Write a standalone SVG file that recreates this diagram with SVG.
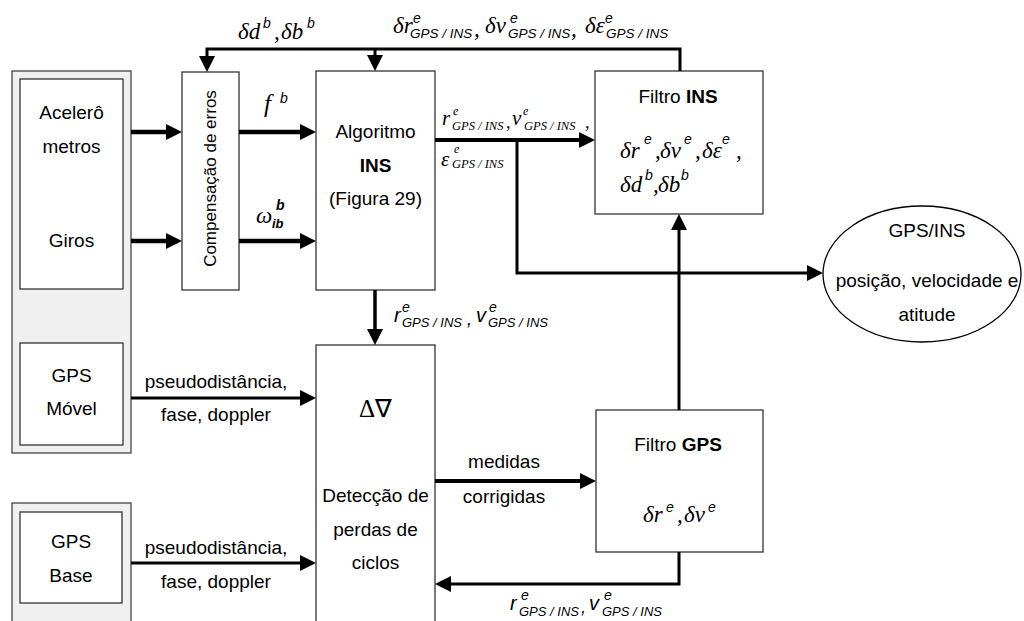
<svg xmlns="http://www.w3.org/2000/svg" width="1024" height="621" viewBox="0 0 1024 621">
  <defs>
    <marker id="ah" markerWidth="16" markerHeight="16" refX="2" refY="8" orient="auto" markerUnits="userSpaceOnUse">
      <path d="M0,0 L16,8 L0,16 z" fill="#000"/>
    </marker>
    <style>
      .panel { fill: #f0f0f0; stroke: #444; stroke-width: 1.3; }
      .box { fill: #fff; stroke: #333; stroke-width: 1.3; }
      .t { font-family: "Liberation Sans", Arial, sans-serif; font-size: 19px; fill: #000; text-anchor: middle; }
      .b { font-weight: bold; }
      .gk { font-family: "Liberation Serif", "Times New Roman", serif; font-style: italic; font-size: 23px; fill: #000; }
      .si { font-family: "Liberation Sans", Arial, sans-serif; font-style: italic; fill: #000; }
      .sup { font-size: 14px; }
      .sub { font-size: 13.5px; }
      .ser { font-family: "Liberation Serif", "Times New Roman", serif; font-style: italic; fill: #000; }
      .c { fill: none; stroke: #000; marker-end: url(#ah); }
    </style>
  </defs>

  <rect width="1024" height="621" fill="#fff"/>

  <!-- sensor panel: accelerometers, gyros, rover GPS -->
  <g id="sensores">
    <rect class="panel" x="12" y="71" width="119" height="382"/>
    <rect class="box" x="20" y="79" width="103" height="210"/>
    <text class="t" x="71.5" y="119">Acelerô</text>
    <text class="t" x="71.5" y="153">metros</text>
    <text class="t" x="71.5" y="247">Giros</text>
  </g>
  <g id="gps-movel">
    <rect class="box" x="20" y="343" width="103" height="102"/>
    <text class="t" x="71.5" y="382">GPS</text>
    <text class="t" x="71.5" y="415">Móvel</text>
  </g>

  <!-- base station panel -->
  <g id="gps-base">
    <rect class="panel" x="12" y="503" width="119" height="130"/>
    <rect class="box" x="20" y="512" width="102" height="91"/>
    <text class="t" x="71" y="548">GPS</text>
    <text class="t" x="71" y="582">Base</text>
  </g>

  <!-- error compensation -->
  <g id="compensacao">
    <rect class="box" x="182" y="72" width="57" height="218"/>
    <text class="t" style="font-size:17px" transform="translate(216,178.5) rotate(-90)">Compensação de erros</text>
  </g>

  <!-- INS algorithm -->
  <g id="algoritmo">
    <rect class="box" x="316" y="71" width="119" height="219"/>
    <text class="t" x="375.5" y="138">Algoritmo</text>
    <text class="t b" x="375.5" y="172">INS</text>
    <text class="t" x="375.5" y="205">(Figura 29)</text>
  </g>

  <!-- INS filter -->
  <g id="filtro-ins">
    <rect class="box" x="595" y="71" width="168" height="143"/>
    <text class="t" x="678" y="103">Filtro <tspan class="b">INS</tspan></text>
    <text class="gk" x="620" y="158">δr</text>
    <text class="si sup" x="644" y="144">e</text>
    <text class="gk" x="655" y="158">,</text>
    <text class="gk" x="660" y="158">δv</text>
    <text class="si sup" x="684" y="144">e</text>
    <text class="gk" x="695" y="158">,</text>
    <text class="gk" x="702" y="158">δε</text>
    <text class="si sup" x="722" y="144">e</text>
    <text class="gk" x="736" y="158">,</text>
    <text class="gk" x="620" y="192">δd</text>
    <text class="si sup" x="645" y="180">b</text>
    <text class="gk" x="653" y="192">,</text>
    <text class="gk" x="658" y="192">δb</text>
    <text class="si sup" x="681" y="180">b</text>
  </g>

  <!-- double difference / cycle slip detection -->
  <g id="deteccao">
    <rect class="box" x="316" y="345" width="119" height="290"/>
    <text x="375.5" y="417" text-anchor="middle" style="font-family:'Liberation Serif','Times New Roman',serif;font-size:25px">Δ∇</text>
    <text class="t" x="375.5" y="502">Detecção de</text>
    <text class="t" x="375.5" y="536">perdas de</text>
    <text class="t" x="375.5" y="569">ciclos</text>
  </g>

  <!-- GPS filter -->
  <g id="filtro-gps">
    <rect class="box" x="596" y="410" width="167" height="142"/>
    <text class="t" x="678" y="451">Filtro <tspan class="b">GPS</tspan></text>
    <text class="gk" x="643" y="522">δr</text>
    <text class="si sup" x="666" y="512">e</text>
    <text class="gk" x="677" y="522">,</text>
    <text class="gk" x="684" y="522">δv</text>
    <text class="si sup" x="708" y="512">e</text>
  </g>

  <!-- integrated output -->
  <g id="saida">
    <ellipse cx="922" cy="274" rx="99" ry="68" fill="#fff" stroke="#000" stroke-width="1.3"/>
    <text class="t" x="927" y="237">GPS/INS</text>
    <text class="t" x="927" y="287">posição, velocidade e</text>
    <text class="t" x="927" y="321">atitude</text>
  </g>

  <!-- connectors -->
  <g id="conectores">
    <path class="c" stroke-width="4.5" d="M131,132 H168"/>
    <path class="c" stroke-width="4.5" d="M131,241 H168"/>
    <path class="c" stroke-width="4.5" d="M239,132 H302"/>
    <path class="c" stroke-width="4.5" d="M239,241 H302"/>
    <path class="c" stroke-width="3" d="M680,71 V49 H207 V58"/>
    <path class="c" stroke-width="3" d="M375,49 V57"/>
    <path class="c" stroke-width="4" d="M435,140 H581"/>
    <path class="c" stroke-width="3" d="M517,140 V273 H809"/>
    <path class="c" stroke-width="3.5" d="M375,290 V331"/>
    <path class="c" stroke-width="3" d="M131,398 H302"/>
    <path class="c" stroke-width="3" d="M131,563 H302"/>
    <path class="c" stroke-width="4" d="M435,481 H582"/>
    <path class="c" stroke-width="3" d="M679,410 V228"/>
    <path class="c" stroke-width="3" d="M679,552 V584 H449"/>
  </g>

  <!-- connector labels -->
  <g id="rotulos">
    <!-- feedback of sensor errors -->
    <text class="gk" x="238" y="39">δd</text>
    <text class="si sup" x="263" y="28">b</text>
    <text class="gk" x="274" y="39">,</text>
    <text class="gk" x="281" y="39">δb</text>
    <text class="si sup" x="307" y="28">b</text>

    <!-- feedback of navigation errors -->
    <text class="gk" x="393" y="33">δr</text>
    <text class="si sup" x="413" y="23">e</text>
    <text class="si sub" x="410" y="38">GPS / INS</text>
    <text class="gk" x="474" y="36">,</text>
    <text class="gk" x="485" y="33">δv</text>
    <text class="si sup" x="510" y="23">e</text>
    <text class="si sub" x="508" y="38">GPS / INS</text>
    <text class="gk" x="571" y="36">,</text>
    <text class="gk" x="585" y="33">δε</text>
    <text class="si sup" x="605" y="23">e</text>
    <text class="si sub" x="606" y="38">GPS / INS</text>

    <!-- compensated measurements -->
    <text class="ser" x="264" y="112" style="font-size:25px">f</text>
    <text class="si sup" x="280" y="103">b</text>
    <text class="ser" x="256" y="223" style="font-size:23px">ω</text>
    <text class="si sup" x="276" y="210" style="font-weight:bold">b</text>
    <text class="si" x="272" y="228" style="font-size:13px;font-weight:bold">ib</text>

    <!-- INS output to the INS filter -->
    <text class="ser" x="442" y="125" style="font-size:21px">r</text>
    <text class="ser" x="453" y="115" style="font-size:12px">e</text>
    <text class="ser" x="452" y="130" style="font-size:12.5px">GPS / INS</text>
    <text class="ser" x="506" y="128" style="font-size:18px">,</text>
    <text class="ser" x="512" y="125" style="font-size:21px">v</text>
    <text class="ser" x="523" y="115" style="font-size:12px">e</text>
    <text class="ser" x="524" y="130" style="font-size:12.5px">GPS / INS</text>
    <text class="ser" x="585" y="128" style="font-size:18px">,</text>
    <text class="ser" x="441" y="166" style="font-size:21px">ε</text>
    <text class="ser" x="454" y="153" style="font-size:12px">e</text>
    <text class="ser" x="452" y="168" style="font-size:12.5px">GPS / INS</text>

    <!-- INS position and velocity to the detection block -->
    <text class="si" x="394" y="322" style="font-size:20px">r</text>
    <text class="si sup" x="402" y="312">e</text>
    <text class="si" x="402" y="327" style="font-size:13px">GPS / INS</text>
    <text class="si" x="467" y="325" style="font-size:18px">,</text>
    <text class="si" x="476" y="322" style="font-size:20px">v</text>
    <text class="si sup" x="489" y="312">e</text>
    <text class="si" x="488" y="327" style="font-size:13px">GPS / INS</text>

    <!-- raw observations -->
    <text class="t" x="216" y="388">pseudodistância,</text>
    <text class="t" x="216" y="421">fase, doppler</text>
    <text class="t" x="216" y="554">pseudodistância,</text>
    <text class="t" x="216" y="588">fase, doppler</text>

    <!-- corrected measurements -->
    <text class="t" x="504" y="468">medidas</text>
    <text class="t" x="504" y="503">corrigidas</text>

    <!-- GPS filter feedback -->
    <text class="si" x="510" y="610" style="font-size:20px">r</text>
    <text class="si sup" x="521" y="600">e</text>
    <text class="si" x="519" y="616" style="font-size:13px">GPS / INS</text>
    <text class="si" x="581" y="613" style="font-size:18px">,</text>
    <text class="si" x="589" y="610" style="font-size:20px">v</text>
    <text class="si sup" x="604" y="600">e</text>
    <text class="si" x="602" y="616" style="font-size:13px">GPS / INS</text>
  </g>
</svg>
